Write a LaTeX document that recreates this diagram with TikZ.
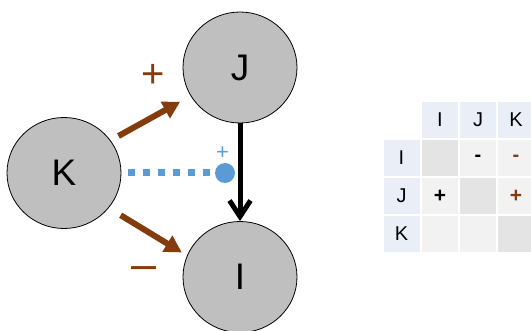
\documentclass[tikz,border=0pt]{standalone}
\usepackage{fontspec}
\setmainfont{Liberation Sans}
\usetikzlibrary{arrows.meta,shapes.geometric}
\definecolor{brn}{HTML}{843C0C}
\definecolor{blu}{HTML}{5B9BD5}
\definecolor{circfill}{HTML}{BFBFBF}
\definecolor{hdr}{HTML}{E9EEF7}
\definecolor{body}{HTML}{F2F2F2}
\definecolor{diag}{HTML}{E4E4E4}
\tikzset{
  var/.style={ellipse, draw=black, line width=0.8pt, fill=circfill, minimum width=114pt, minimum height=111pt, inner sep=0pt, font=\fontsize{37}{40}\selectfont},
  brarrow/.style={draw=brn, line width=6pt, -{Triangle[length=17pt,width=18pt]}},
  cell/.style={minimum width=36pt, minimum height=36pt, inner sep=0pt, font=\fontsize{20}{22}\selectfont},
  hcell/.style={cell, fill=hdr},
  bcell/.style={cell, fill=body},
  dcell/.style={cell, fill=diag},
  sign/.style={inner sep=0pt, text=brn}
}
\begin{document}
\begin{tikzpicture}[x=1pt,y=-1pt]
\useasboundingbox (0,0) rectangle (531,331);
% circles
\node[var] (K) at (64,173) {K};
\node[var] (J) at (240,67.5) {J};
\node[var] (I) at (240,277) {I};
% blue dot
\node[circle, fill=blu, minimum size=20pt, inner sep=0pt] (dot) at (225,173) {};
\draw[blu, line width=7pt, dash pattern=on 7pt off 8pt, shorten <=7pt] (K.east) -- (dot.center);
\node[sign, text=blu, font=\fontsize{22}{24}\selectfont] (bplus) at (222.5,153) {+};
% arrows
\draw[brarrow, shorten <=9pt, shorten >=12pt] (K.35) -- (J.210);
\draw[brarrow, shorten <=14pt, shorten >=6pt] (K.-38) -- (I.158);
\draw[line width=5pt, -{Straight Barb[length=16pt,width=21pt]}] (J.south) -- (I.north);
% signs
\node[sign, font=\fontsize{40}{42}\selectfont] (plus) at (153,76) {+};
\node[sign, font=\fontsize{45}{46}\selectfont] (minus) at (144.5,273) {–};
% table
\node[cell] (c00) at (401.5,120) {};
\node[hcell] (c01) at (440,120) {I};
\node[hcell] (c02) at (478,120) {J};
\node[hcell] (c03) at (516,120) {K};
\node[hcell] (c10) at (401.5,158) {I};
\node[dcell] (c11) at (440,158) {};
\node[bcell, font=\fontsize{20}{22}\selectfont\bfseries] (c12) at (478,158) {-};
\node[bcell, font=\fontsize{20}{22}\selectfont\bfseries, text=brn] (c13) at (516,158) {-};
\node[hcell] (c20) at (401.5,196) {J};
\node[bcell, font=\fontsize{21}{22}\selectfont\bfseries] (c21) at (440,196) {+};
\node[dcell] (c22) at (478,196) {};
\node[bcell, font=\fontsize{21}{22}\selectfont\bfseries, text=brn] (c23) at (516,196) {+};
\node[hcell] (c30) at (401.5,234) {K};
\node[bcell] (c31) at (440,234) {};
\node[bcell] (c32) at (478,234) {};
\node[dcell] (c33) at (516,234) {};
\end{tikzpicture}
\end{document}
